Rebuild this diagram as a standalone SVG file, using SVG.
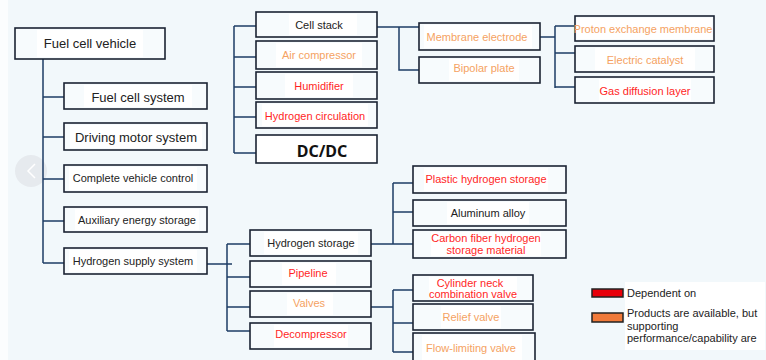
<svg xmlns="http://www.w3.org/2000/svg" width="766" height="360" viewBox="0 0 766 360">
<style>
.box{fill:#f7fbfd;stroke:#1b2333;stroke-width:1.6}
.pat{fill:#ffffff}
.t{font-family:"Liberation Sans",Arial,sans-serif;font-size:11px;text-anchor:middle;fill:#222}
.big{font-size:13px}
.red{fill:#ff1f1f}
.org{fill:#f5a262}
.conn{fill:none;stroke:#1e3d66;stroke-width:1.5}
.lg{font-family:"Liberation Sans",Arial,sans-serif;font-size:11px;fill:#222}
</style>
<rect width="766" height="360" fill="#f2f8fb"/>
<rect x="0" y="0" width="8" height="360" fill="#fbfdfe"/>
<g id="carousel-button">
<circle cx="31" cy="171" r="16" fill="#e6eaee"/>
<path d="M35,164 L28,171 L35,178" fill="none" stroke="#ffffff" stroke-width="1.5"/>
</g>
<g id="connectors">
<path class="conn" d="M43,59 V263 M43,97 H64 M43,137 H64 M43,179 H64 M43,221 H64 M43,263 H64"/>
<path class="conn" d="M207,264 H232 M227,244 V331 M227,244 H250 M227,277 H250 M227,307 H250 M227,331 H250"/>
<path class="conn" d="M234,26 V153 M234,26 H256 M234,57 H256 M234,87 H256 M234,117 H256 M234,153 H256"/>
<path class="conn" d="M377,27 H419 M399,27 V70 H419"/>
<path class="conn" d="M540,37 H555 M555,26 V88 M555,26 H575 M555,53 H575 M555,87 H575"/>
<path class="conn" d="M371,244 H413 M393,183 V244 M393,183 H413 M393,212 H413"/>
<path class="conn" d="M371,307 H393 M393,290 V352 M393,290 H413 M393,323 H413 M393,352 H413"/>
</g>
<g id="n_fcv"><rect class="box" x="15" y="28" width="150" height="31"/><rect class="pat" x="37" y="30" width="106" height="27"/><text class="t big" x="90" y="48">Fuel cell vehicle</text></g>
<g id="n_fcs"><rect class="box" x="64" y="83" width="143" height="26"/><rect class="pat" x="84" y="85" width="108" height="22"/><text class="t big" x="138" y="102">Fuel cell system</text></g>
<g id="n_dms"><rect class="box" x="64" y="123" width="143" height="27"/><rect class="pat" x="70" y="125" width="132" height="23"/><text class="t big" x="136" y="142">Driving motor system</text></g>
<g id="n_cvc"><rect class="box" x="64" y="165" width="143" height="27"/><rect class="pat" x="69" y="167" width="128" height="23"/><text class="t" x="133" y="182">Complete vehicle control</text></g>
<g id="n_aes"><rect class="box" x="64" y="207" width="143" height="25"/><rect class="pat" x="75" y="209" width="124" height="21"/><text class="t" x="137" y="224">Auxiliary energy storage</text></g>
<g id="n_hss"><rect class="box" x="64" y="248" width="143" height="26"/><rect class="pat" x="69" y="250" width="128" height="22"/><text class="t" x="133" y="265">Hydrogen supply system</text></g>
<g id="n_cs"><rect class="box" x="256" y="12" width="121" height="25"/><rect class="pat" x="289" y="14" width="68" height="21"/><text class="t" x="319" y="29">Cell stack</text></g>
<g id="n_ac"><rect class="box" x="256" y="41" width="121" height="28"/><rect class="pat" x="276" y="43" width="86" height="24"/><text class="t org" x="319" y="59">Air compressor</text></g>
<g id="n_hum"><rect class="box" x="256" y="72" width="121" height="27"/><rect class="pat" x="285" y="74" width="68" height="23"/><text class="t red" x="319" y="90">Humidifier</text></g>
<g id="n_hcp"><rect class="box" x="256" y="102" width="121" height="26"/><rect class="pat" x="262" y="104" width="106" height="22"/><text class="t red" x="315" y="120">Hydrogen circulation</text></g>
<g id="n_dcdc"><rect class="box" x="256" y="135" width="121" height="28" style="fill:#ffffff"/><text x="322" y="157" style="font-family:'Noto Sans','DejaVu Sans',sans-serif;font-size:16px;font-weight:bold;text-anchor:middle;fill:#111">DC/DC</text></g>
<g id="n_me"><rect class="box" x="419" y="23" width="121" height="27"/><rect class="pat" x="424" y="25" width="108" height="23"/><text class="t org" x="477" y="41">Membrane electrode</text></g>
<g id="n_bp"><rect class="box" x="419" y="57" width="121" height="26"/><rect class="pat" x="449" y="59" width="70" height="22"/><text class="t org" x="484" y="72">Bipolar plate</text></g>
<g id="n_pem"><rect class="box" x="575" y="16" width="139" height="25"/><rect class="pat" x="577" y="18" width="135" height="21"/><text class="t org" x="643" y="33">Proton exchange membrane</text></g>
<g id="n_ec"><rect class="box" x="575" y="46" width="139" height="26"/><rect class="pat" x="595" y="48" width="100" height="22"/><text class="t org" x="645" y="64">Electric catalyst</text></g>
<g id="n_gdl"><rect class="box" x="575" y="77" width="139" height="26"/><rect class="pat" x="599" y="79" width="92" height="22"/><text class="t red" x="645" y="95">Gas diffusion layer</text></g>
<g id="n_hsc"><rect class="box" x="250" y="230" width="121" height="26"/><rect class="pat" x="264" y="232" width="94" height="22"/><text class="t" x="311" y="247">Hydrogen storage</text></g>
<g id="n_pipe"><rect class="box" x="250" y="261" width="121" height="26"/><rect class="pat" x="282" y="263" width="54" height="22"/><text class="t red" x="308" y="277">Pipeline</text></g>
<g id="n_valve"><rect class="box" x="250" y="291" width="121" height="26"/><rect class="pat" x="287" y="293" width="46" height="22"/><text class="t org" x="309" y="307">Valves</text></g>
<g id="n_decomp"><rect class="box" x="250" y="323" width="121" height="26"/><rect class="pat" x="274" y="325" width="74" height="22"/><text class="t red" x="311" y="338">Decompressor</text></g>
<g id="n_plastic"><rect class="box" x="413" y="166" width="153" height="27"/><rect class="pat" x="424" y="168" width="124" height="23"/><text class="t red" x="486" y="183">Plastic hydrogen storage</text></g>
<g id="n_al"><rect class="box" x="413" y="200" width="153" height="26"/><rect class="pat" x="447" y="202" width="82" height="22"/><text class="t" x="488" y="217">Aluminum alloy</text></g>
<g id="n_cf"><rect class="box" x="413" y="230" width="153" height="28"/><rect class="pat" x="431" y="232" width="110" height="24"/><text class="t red" x="486" y="242">Carbon fiber hydrogen</text><text class="t red" x="486" y="254">storage material</text></g>
<g id="n_neck"><rect class="box" x="413" y="275" width="120" height="26"/><rect class="pat" x="429" y="277" width="88" height="22"/><text class="t red" x="470" y="287">Cylinder neck</text><text class="t red" x="473" y="298">combination valve</text></g>
<g id="n_relief"><rect class="box" x="413" y="304" width="120" height="26"/><rect class="pat" x="441" y="306" width="60" height="22"/><text class="t org" x="471" y="321">Relief valve</text></g>
<g id="n_flow"><rect class="box" x="413" y="333" width="122" height="30"/><rect class="pat" x="422" y="335" width="100" height="25"/><text class="t org" x="471" y="352">Flow-limiting valve</text></g>
<g id="legend">
<rect x="625" y="282" width="140" height="68" fill="#ffffff"/>
<rect x="592" y="289" width="31" height="8" fill="#e8000a" stroke="#222" stroke-width="1.5"/>
<text class="lg" x="627" y="297">Dependent on</text>
<rect x="592" y="313" width="31" height="9" fill="#f07a3a" stroke="#222" stroke-width="1.5"/>
<text class="lg" x="627" y="317">Products are available, but</text>
<text class="lg" x="627" y="330">supporting</text>
<text class="lg" x="627" y="342">performance/capability are</text>
</g>
</svg>
